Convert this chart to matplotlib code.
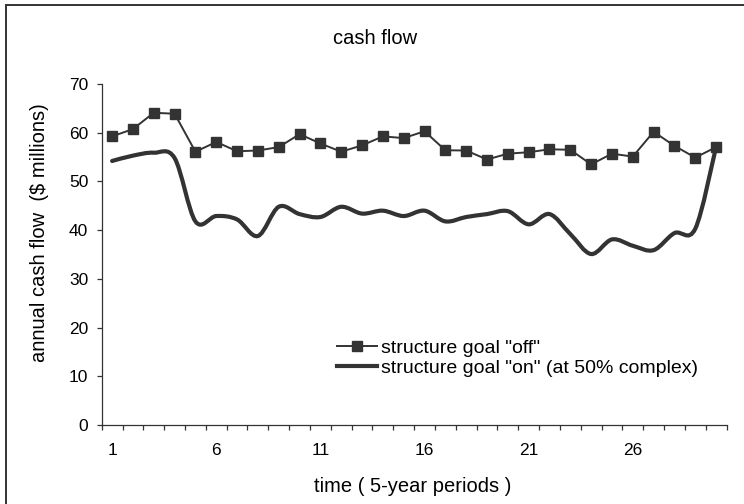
import numpy as np
import matplotlib
matplotlib.use('Agg')
import matplotlib.pyplot as plt
from matplotlib.path import Path
from matplotlib.patches import PathPatch, Rectangle
from matplotlib.lines import Line2D

plt.rcParams['font.family'] = ['Liberation Sans', 'DejaVu Sans']

# periods 1..30
periods = np.arange(1, 31)

goal_off = [59.25, 60.75, 64.1, 63.9, 56.1, 58.1, 56.2, 56.35, 57.05, 59.7,
            57.8, 56.1, 57.4, 59.25, 58.9, 60.3, 56.4, 56.35, 54.5, 55.7,
            56.0, 56.6, 56.5, 53.5, 55.7, 55.1, 60.2, 57.3, 54.9, 57.05]

goal_on = [54.2, 55.3, 55.9, 54.8, 41.8, 42.9, 42.2, 38.8, 44.8, 43.3,
           42.7, 44.8, 43.4, 44.0, 42.9, 44.0, 41.8, 42.7, 43.3, 43.9,
           41.2, 43.3, 39.2, 35.1, 38.1, 36.8, 35.9, 39.4, 40.3, 57.1]

label_off = 'structure goal "off"'
label_on = 'structure goal "on" (at 50% complex)'
xtick_labels = ['1', '6', '11', '16', '21', '26']
ink = '#333333'


def smooth_path(x, y):
    # Catmull-Rom style bezier segments, like a spreadsheet "smoothed line"
    pts = np.column_stack([x, y]).astype(float)
    n = len(pts)
    verts = [pts[0]]
    codes = [Path.MOVETO]
    for i in range(n - 1):
        p0 = pts[i - 1] if i > 0 else pts[i]
        p1 = pts[i]
        p2 = pts[i + 1]
        p3 = pts[i + 2] if i + 2 < n else pts[i + 1]
        verts += [p1 + (p2 - p0) / 6, p2 - (p3 - p1) / 6, p2]
        codes += [Path.CURVE4] * 3
    return Path(verts, codes)


fig = plt.figure(figsize=(7.44, 5.04), dpi=100)
ax = fig.add_axes([0.1367, 0.1567, 0.8398, 0.6766])

ax.plot(periods, goal_off, color=ink, lw=1.4, marker='s', markersize=7.5,
        markerfacecolor=ink, markeredgecolor=ink, zorder=3)
ax.add_patch(PathPatch(smooth_path(periods, goal_on), facecolor='none',
                       edgecolor=ink, lw=3, capstyle='round', zorder=2))

ax.set_xlim(0.5, 30.5)
ax.set_ylim(0, 70)
ax.set_yticks(range(0, 71, 10))
ax.set_xticks(np.arange(0.5, 31, 1))
ax.set_xticklabels([])
ax.set_xticks([int(t) for t in xtick_labels], minor=True)
ax.set_xticklabels(xtick_labels, minor=True)
ax.tick_params(axis='x', which='major', direction='out', length=3.6, width=0.9, color=ink)
ax.tick_params(axis='x', which='minor', length=0, pad=13, labelsize=12.5)
ax.tick_params(axis='y', direction='out', length=3.6, width=0.9, color=ink,
               pad=6, labelsize=12.5)

for s in ['top', 'right']:
    ax.spines[s].set_visible(False)
for s in ['left', 'bottom']:
    ax.spines[s].set_color(ink)
    ax.spines[s].set_linewidth(0.9)

handles = [Line2D([], [], color=ink, lw=1.4, marker='s', markersize=7.5),
           Line2D([], [], color=ink, lw=3)]
ax.legend(handles, [label_off, label_on], loc='upper left',
          bbox_to_anchor=(0.3767, 0.252), frameon=False, fontsize=14,
          borderpad=0, borderaxespad=0, handlelength=2.06, handletextpad=0.18,
          labelspacing=0.15)

fig.text(375 / 744, 1 - 38 / 504, 'cash flow', ha='center', va='center', fontsize=14.5)
fig.text(413 / 744, 1 - 487 / 504, 'time ( 5-year periods )', ha='center', va='center',
         fontsize=14.5)
fig.text(40 / 744, 1 - 233 / 504, 'annual cash flow  ($ millions)', ha='center',
         va='center', rotation=90, fontsize=14.5)

fig.add_artist(Rectangle((6.5 / 744, -0.1), 1.0, 1.1 - 5 / 504, transform=fig.transFigure,
                         fill=False, edgecolor=ink, lw=1.4))

fig.savefig('out.png', dpi=100)
